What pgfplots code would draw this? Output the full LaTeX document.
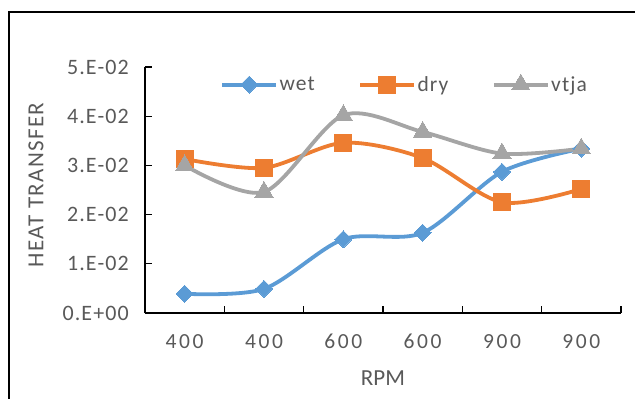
\documentclass[border=0pt]{standalone}
\usepackage{fontspec}
\setmainfont{Carlito}
\newfontfamily\tickfont[LetterSpace=5]{Carlito}
\newfontfamily\xtickfont[LetterSpace=12]{Carlito}
\newfontfamily\labfont[LetterSpace=6]{Carlito}
\usepackage{pgfplots}
\pgfplotsset{compat=1.18}
\definecolor{cwet}{HTML}{5B9BD5}
\definecolor{cdry}{HTML}{ED7D31}
\definecolor{cvtja}{HTML}{A5A5A5}
\definecolor{txt}{HTML}{595959}
\begin{document}
\begin{tikzpicture}
\begin{axis}[
  at={(0pt,0pt)}, anchor=south west,
  scale only axis, width=476pt, height=246pt,
  xmin=-0.5, xmax=5.5, ymin=0, ymax=0.05,
  scaled y ticks=false,
  axis x line=bottom, axis y line=left,
  axis line style={-, black, line width=1.3pt},
  tick align=inside, major tick length=7pt,
  tick style={black, line width=1.3pt},
  ytick={0,0.01,0.02,0.03,0.04,0.05},
  yticklabels={0.E+00,1.E-02,2.E-02,3.E-02,4.E-02,5.E-02},
  yticklabel style={font=\tickfont\fontsize{22}{25}\selectfont, text=txt, anchor=east, inner sep=0pt, xshift=-16pt},
  xtick={-0.5,0.5,1.5,2.5,3.5,4.5,5.5},
  xticklabels={,,,,,,},
  extra x ticks={0,1,2,3,4,5},
  extra x tick labels={400,400,600,600,900,900},
  extra x tick style={major tick length=0pt},
  xticklabel style={font=\xtickfont\fontsize{21.5}{24}\selectfont, text=txt, anchor=north, inner sep=0pt, yshift=-21pt},
  xlabel={RPM},
  xlabel style={font=\fontsize{23}{26}\selectfont, text=txt, at={(axis description cs:0.5,-0.264)}, anchor=center},
  ylabel={HEAT TRANSFER},
  ylabel style={font=\labfont\fontsize{23}{26}\selectfont, text=txt, at={(axis description cs:-0.229,0.52)}, anchor=center},
  legend columns=3,
  legend style={at={(0.545,0.93)}, anchor=center, draw=none, fill=none,
    font=\tickfont\fontsize{21.5}{24}\selectfont, text=txt,
    nodes={inner sep=1.5pt},
    /tikz/every even column/.append style={column sep=42pt}},
  legend image code/.code={\draw[mark repeat=2, mark phase=2] plot coordinates {(0pt,0pt) (27pt,0pt) (54pt,0pt)};},
  every axis plot/.append style={line width=3.8pt},
]
\addplot[cwet, smooth, mark=square*, mark size=6pt, mark options={rotate=45, fill=cwet, draw=cwet, line width=0pt}]
  coordinates {(0,0.0039) (1,0.0049) (2,0.0150) (3,0.0163) (4,0.0287) (5,0.0334)};
\addlegendentry{wet}
\addplot[cdry, smooth, mark=square*, mark size=8.5pt, mark options={fill=cdry, draw=cdry, line width=0pt}]
  coordinates {(0,0.0313) (1,0.0295) (2,0.0346) (3,0.0315) (4,0.0225) (5,0.0252)};
\addlegendentry{dry}
\addplot[cvtja, smooth, mark=triangle*, mark size=10.5pt, mark options={fill=cvtja, draw=cvtja, line width=0pt}]
  coordinates {(0,0.0300) (1,0.0246) (2,0.0402) (3,0.0368) (4,0.0324) (5,0.0334)};
\addlegendentry{vtja}
\end{axis}
\draw[line width=1.3pt, black] (-136pt,-200pt) rectangle (600pt,301pt);
\pgfresetboundingbox
\path[use as bounding box] (-145pt,-86pt) rectangle (490pt,313pt);
\end{tikzpicture}
\end{document}
